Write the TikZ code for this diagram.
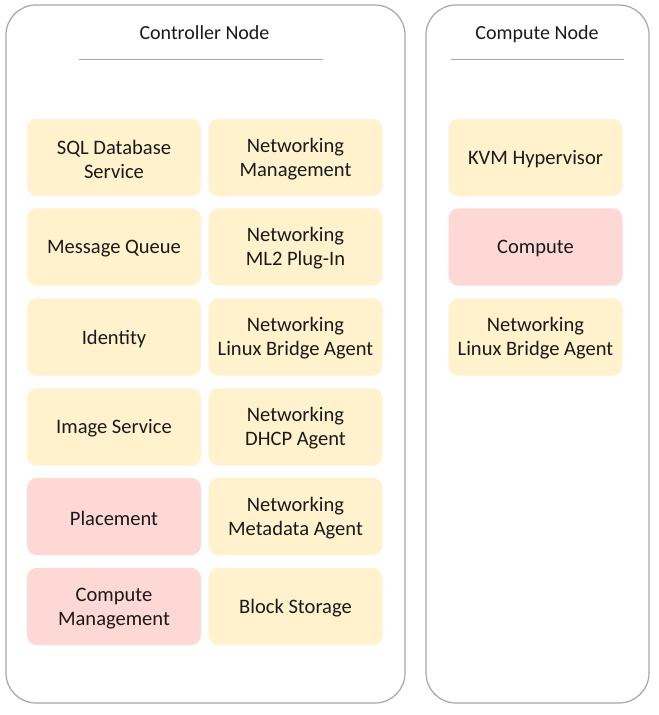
\documentclass[tikz,border=0pt]{standalone}
\usepackage{fontspec}
\setmainfont{Carlito}
\definecolor{boxyellow}{HTML}{FFF2CC}
\definecolor{boxpink}{HTML}{FDD8D5}
\definecolor{framegrey}{HTML}{A6A6A6}
\definecolor{txt}{HTML}{1A1A1A}
\tikzset{
  container/.style={draw=framegrey, line width=0.9pt, rounded corners=22.5pt, fill=white, minimum width=#1, minimum height=523.5pt, inner sep=0pt},
  svcbox/.style={fill=#1, rounded corners=7.5pt, minimum width=130.5pt, minimum height=58pt, inner sep=0pt},
  svctext/.style={align=center, text=txt, inner sep=0pt, font=\fontsize{15.4}{18}\selectfont},
  title/.style={text=txt, font=\fontsize{15}{18}\selectfont, inner sep=0pt, anchor=base},
  rule/.style={draw=framegrey, line width=0.75pt}
}
\begin{document}
\begin{tikzpicture}[x=0.75pt, y=-0.75pt]
\useasboundingbox (0,0) rectangle (659,715);
\fill[white] (0,0) rectangle (659,715);
% containers
\node[container=299.25pt] (ctrl) at (205.5,354) {};
\node[container=167.25pt] (comp) at (537.5,354) {};
% titles
\node[title] (ctrlT) at (204.5,39.5) {Controller Node};
\node[title] (compT) at (537,39.5) {Compute Node};
\coordinate (cl1) at (79,59); \coordinate (cl2) at (323,59);
\coordinate (pl1) at (451,59); \coordinate (pl2) at (624,59);
\draw[rule] (cl1) -- (cl2);
\draw[rule] (pl1) -- (pl2);
% controller left column
\node[svcbox=boxyellow] (sql) at (114,157.5) {};
\node[svcbox=boxyellow] (mq) at (114,247) {};
\node[svcbox=boxyellow] (id) at (114,337) {};
\node[svcbox=boxyellow] (img) at (114,427) {};
\node[svcbox=boxpink] (plc) at (114,516.5) {};
\node[svcbox=boxpink] (cmg) at (114,606.5) {};
% controller right column
\node[svcbox=boxyellow] (nm) at (295.5,157.5) {};
\node[svcbox=boxyellow] (ml2) at (295.5,247) {};
\node[svcbox=boxyellow] (lba) at (295.5,337) {};
\node[svcbox=boxyellow] (dhcp) at (295.5,427) {};
\node[svcbox=boxyellow] (meta) at (295.5,516.5) {};
\node[svcbox=boxyellow] (blk) at (295.5,606.5) {};
% compute column
\node[svcbox=boxyellow] (kvm) at (535.5,157.5) {};
\node[svcbox=boxpink] (cmp) at (535.5,247) {};
\node[svcbox=boxyellow] (clba) at (535.5,337) {};
% texts
\node[svctext] (sqlT) at ([yshift=-1.2pt]sql.center) {SQL Database\\Service};
\node[svctext] (mqT) at ([yshift=-1.2pt]mq.center) {Message Queue};
\node[svctext] (idT) at ([yshift=-1.2pt]id.center) {Identity};
\node[svctext] (imgT) at ([yshift=-1.2pt]img.center) {Image Service};
\node[svctext] (plcT) at ([yshift=-1.2pt]plc.center) {Placement};
\node[svctext] (cmgT) at ([yshift=-1.2pt]cmg.center) {Compute\\Management};
\node[svctext] (nmT) at ([yshift=-1.2pt]nm.center) {Networking\\Management};
\node[svctext] (ml2T) at ([yshift=-1.2pt]ml2.center) {Networking\\ML2 Plug-In};
\node[svctext] (lbaT) at ([yshift=-1.2pt]lba.center) {Networking\\Linux Bridge Agent};
\node[svctext] (dhcpT) at ([yshift=-1.2pt]dhcp.center) {Networking\\DHCP Agent};
\node[svctext] (metaT) at ([yshift=-1.2pt]meta.center) {Networking\\Metadata Agent};
\node[svctext] (blkT) at ([yshift=-1.2pt]blk.center) {Block Storage};
\node[svctext] (kvmT) at ([yshift=-1.2pt]kvm.center) {KVM Hypervisor};
\node[svctext] (cmpT) at ([yshift=-1.2pt]cmp.center) {Compute};
\node[svctext] (clbaT) at ([yshift=-1.2pt]clba.center) {Networking\\Linux Bridge Agent};
\end{tikzpicture}
\end{document}
